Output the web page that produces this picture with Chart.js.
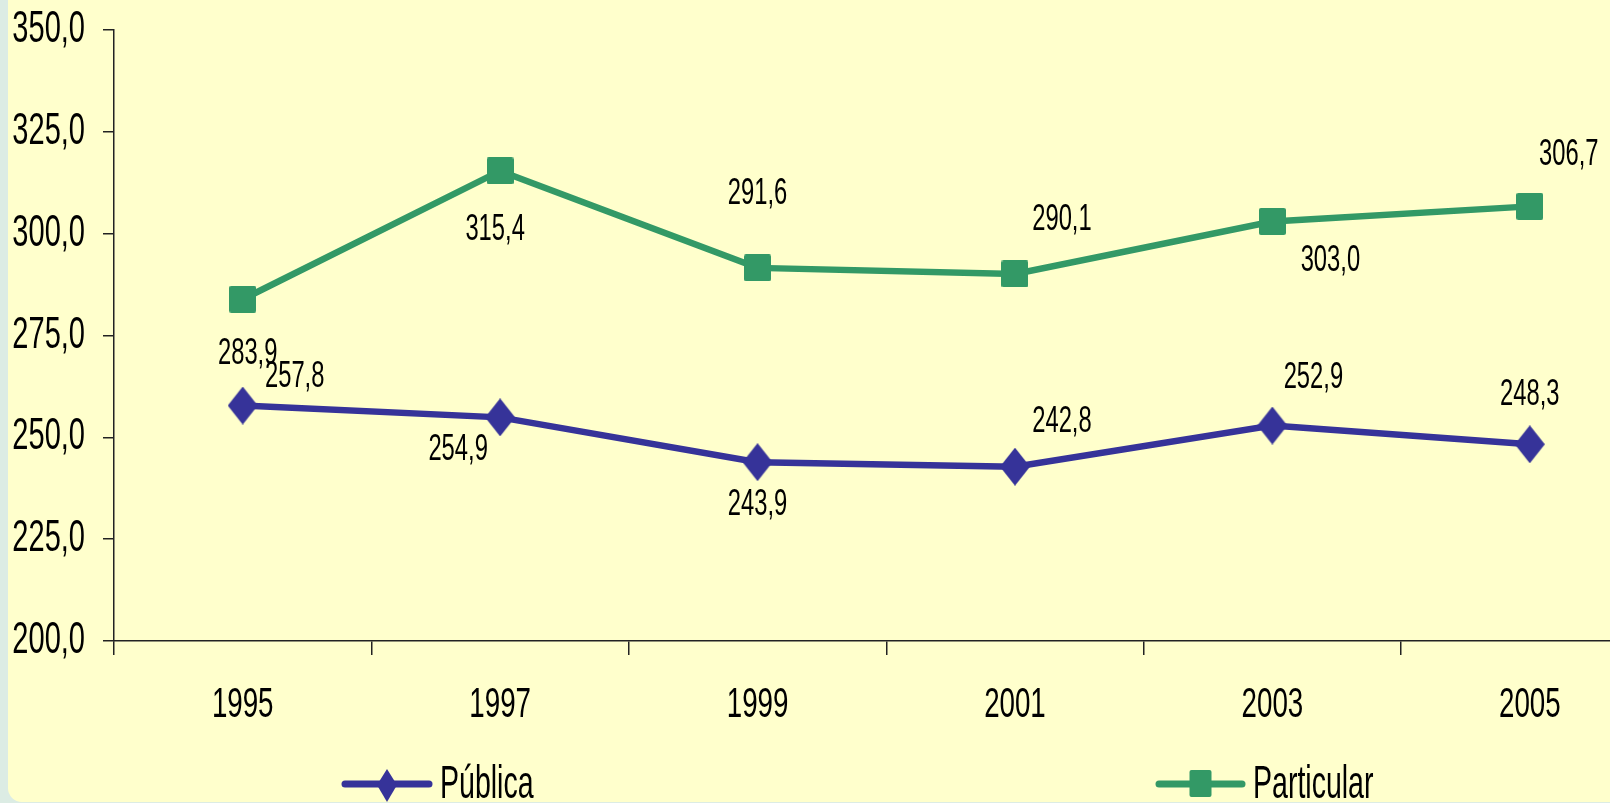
<!DOCTYPE html>
<html>
<head>
<meta charset="utf-8">
<script src="https://cdn.jsdelivr.net/npm/chart.js@4/dist/chart.umd.min.js"></script>
<style>
  html, body { margin: 0; padding: 0; width: 1610px; height: 803px; overflow: hidden; background: #DCECE4; }
  #panel { position: absolute; left: 8px; top: 0; width: 1602px; height: 802px; background: #FFFFCC; border-bottom-left-radius: 14px; }
  #wrap { position: absolute; left: 0; top: 0; width: 1680px; height: 803px; }
</style>
</head>
<body>
<div id="panel"></div>
<div id="wrap"><canvas id="c"></canvas></div>
<script>
const categories = ['1995', '1997', '1999', '2001', '2003', '2005'];
const publica = [257.8, 254.9, 243.9, 242.8, 252.9, 248.3];
const particular = [283.9, 315.4, 291.6, 290.1, 303.0, 306.7];
const seriesNames = ['Pública', 'Particular'];
const yMin = 200, yMax = 350, yStep = 25;

const FONT = '"Liberation Sans", Arial, sans-serif';
const NAVY = '#363399';
const GREEN = '#339966';
const SQUEEZE = 0.66;

function makeDiamond(w, h, color) {
  const c = document.createElement('canvas');
  c.width = w; c.height = h;
  const x = c.getContext('2d');
  x.fillStyle = color;
  x.beginPath();
  x.moveTo(w / 2, 0); x.lineTo(w, h / 2); x.lineTo(w / 2, h); x.lineTo(0, h / 2);
  x.closePath(); x.fill();
  return c;
}
function makeSquare(w, h, color) {
  const c = document.createElement('canvas');
  c.width = w; c.height = h;
  const x = c.getContext('2d');
  x.fillStyle = color;
  x.beginPath();
  x.roundRect(0, 0, w, h, 2);
  x.fill();
  return c;
}
const diamondImg = makeDiamond(30, 38, NAVY);
const squareImg = makeSquare(27, 27, GREEN);

const fmt = v => Number(v).toFixed(1).replace('.', ',');

function squeezedText(ctx, text, x, y, align, sx) {
  ctx.save();
  ctx.translate(x, y);
  ctx.scale(sx, 1);
  ctx.textAlign = align;
  ctx.fillText(text, 0, 0);
  ctx.restore();
}

// tick labels drawn from the scales' own ticks, in a condensed style
const condensedTicks = {
  id: 'condensedTicks',
  afterDraw(chart) {
    const ctx = chart.ctx;
    const xs = chart.scales.x, ys = chart.scales.y;
    ctx.save();
    ctx.fillStyle = '#000';
    ctx.textBaseline = 'middle';
    ctx.font = '44px ' + FONT;
    ys.ticks.forEach((t, i) => {
      squeezedText(ctx, fmt(t.value), ys.right - 29, ys.getPixelForTick(i), 'right', SQUEEZE);
    });
    ctx.font = '42px ' + FONT;
    xs.ticks.forEach((t, i) => {
      squeezedText(ctx, xs.getLabelForValue(t.value), xs.getPixelForTick(i), xs.top + 64, 'center', SQUEEZE);
    });
    ctx.restore();
  }
};

// label placement (dx, dy from point) per series
const labelOffsets = [
  [[52, -28], [-42, 33], [0, 43], [47, -45], [41, -47], [0, -49]],
  [[5, 55], [-5, 59], [0, -74], [47, -54], [58, 40], [39, -51]]
];

const valueLabels = {
  id: 'valueLabels',
  afterDatasetsDraw(chart) {
    const ctx = chart.ctx;
    ctx.save();
    ctx.fillStyle = '#000';
    ctx.font = '36px ' + FONT;
    ctx.textBaseline = 'middle';
    chart.data.datasets.forEach((ds, di) => {
      const meta = chart.getDatasetMeta(di);
      meta.data.forEach((pt, i) => {
        const off = labelOffsets[di][i];
        squeezedText(ctx, fmt(ds.data[i]), pt.x + off[0], pt.y + off[1], 'center', SQUEEZE);
      });
    });
    ctx.restore();
  }
};

const legendSpec = [
  { x: 345, len: 84, marker: 'diamond' },
  { x: 1159, len: 83, marker: 'square' }
];
const customLegend = {
  id: 'customLegend',
  afterDraw(chart) {
    const ctx = chart.ctx;
    const y = 784;
    ctx.save();
    chart.data.datasets.forEach((ds, di) => {
      const s = legendSpec[di];
      ctx.strokeStyle = ds.borderColor;
      ctx.lineWidth = 7;
      ctx.lineCap = 'round';
      ctx.beginPath();
      ctx.moveTo(s.x, y); ctx.lineTo(s.x + s.len, y); ctx.stroke();
      const cx = s.x + s.len / 2;
      ctx.fillStyle = ds.borderColor;
      if (s.marker === 'diamond') {
        ctx.beginPath();
        ctx.moveTo(cx, y - 15); ctx.lineTo(cx + 10, y + 1); ctx.lineTo(cx, y + 18); ctx.lineTo(cx - 10, y + 1);
        ctx.closePath(); ctx.fill();
      } else {
        ctx.beginPath();
        ctx.roundRect(cx - 11, y - 14, 22, 27, 2);
        ctx.fill();
      }
      ctx.fillStyle = '#000';
      ctx.font = '46px ' + FONT;
      ctx.textBaseline = 'alphabetic';
      squeezedText(ctx, ds.label, s.x + s.len + 11, 798, 'left', 0.62);
    });
    ctx.restore();
  }
};

new Chart(document.getElementById('c'), {
  type: 'line',
  data: {
    labels: categories,
    datasets: [
      {
        label: seriesNames[0], data: publica,
        borderColor: NAVY, backgroundColor: NAVY, borderWidth: 6.5,
        pointStyle: diamondImg, pointRadius: 15, tension: 0
      },
      {
        label: seriesNames[1], data: particular,
        borderColor: GREEN, backgroundColor: GREEN, borderWidth: 6.5,
        pointStyle: squareImg, pointRadius: 14, tension: 0
      }
    ]
  },
  options: {
    responsive: true,
    maintainAspectRatio: false,
    animation: false,
    layout: { padding: { top: 30, right: 12, left: 0, bottom: 0 } },
    plugins: { legend: { display: false }, tooltip: { enabled: false } },
    scales: {
      x: {
        offset: true,
        grid: { offset: true, drawOnChartArea: false, color: '#222', tickLength: 14, lineWidth: 1.5 },
        border: { color: '#222', width: 1.5 },
        ticks: { display: false },
        afterFit(scale) { scale.height = 162; }
      },
      y: {
        min: yMin, max: yMax,
        grid: { drawOnChartArea: false, color: '#222', tickLength: 11, lineWidth: 1.5 },
        border: { color: '#222', width: 1.5 },
        ticks: { display: false, stepSize: yStep },
        afterFit(scale) { scale.width = 114; }
      }
    }
  },
  plugins: [valueLabels, condensedTicks, customLegend]
});
</script>
</body>
</html>
